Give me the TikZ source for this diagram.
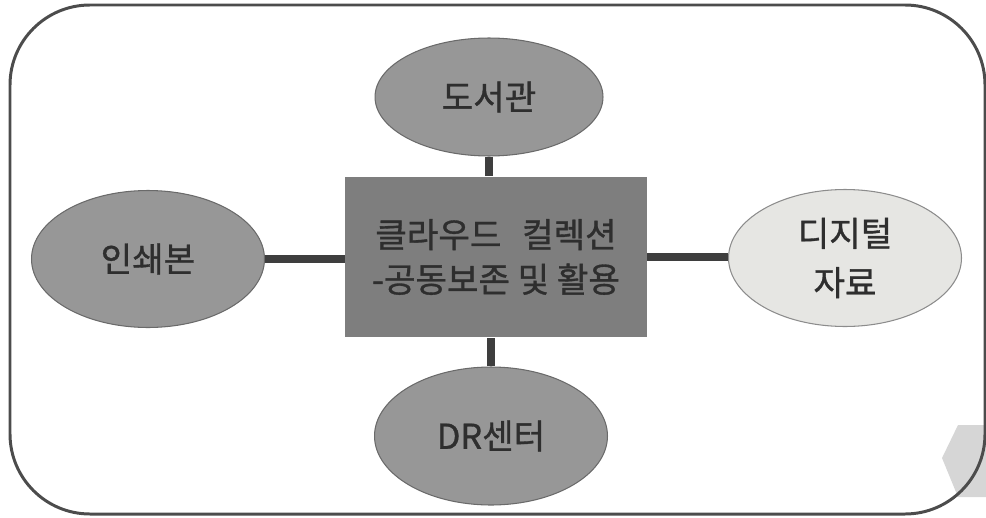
\documentclass[tikz,border=0pt]{standalone}
\usepackage{fontspec}
\newfontfamily\kr[FakeBold=1]{Noto Sans CJK KR}
\usetikzlibrary{shapes.geometric}
\definecolor{framegrey}{HTML}{4C4C4C}
\definecolor{linkgrey}{HTML}{3E3E3E}
\definecolor{boxgrey}{HTML}{7E7E7E}
\definecolor{ovalgrey}{HTML}{979797}
\definecolor{ovalline}{HTML}{6A6A6A}
\definecolor{lightoval}{HTML}{E6E6E3}
\definecolor{inkgrey}{HTML}{2E2E2E}
\tikzset{
 oval/.style={ellipse, draw=ovalline, fill=ovalgrey, line width=0.6pt, inner sep=0pt,
  minimum width=4.66cm, minimum height=2.74cm, align=center, text=inkgrey,
  font=\kr\fontsize{19.5}{28}\selectfont},
 box/.style={rectangle, fill=boxgrey, minimum width=6.04cm, minimum height=3.22cm,
  align=center, text=inkgrey, font=\kr\fontsize{19.5}{25.5}\selectfont},
 link/.style={draw=linkgrey, line width=0.16cm}
}
\begin{document}
\begin{tikzpicture}[x=0.02cm, y=-0.02cm]
 \useasboundingbox (0,0) rectangle (986,517);
 % scan mark at the lower right
 \fill [black!16] (942,458) -- (958,425) -- (986,425) -- (986,497) -- (958,497) -- cycle;
 \draw [framegrey, line width=1.7pt, rounded corners=1.6cm] (10,5) rectangle (985,514);
 \node [box] (cloud) at (496,257) {클라우드\hspace{0.6em}컬렉션\\-공동보존 및 활용};
 \node [oval, minimum height=2.36cm, minimum width=4.56cm] (library) at (489,97) {도서관};
 \node [oval] (print) at (148,259) {인쇄본};
 \node [oval, fill=lightoval, draw=black!45] (digital) at (845,258) {디지털\\자료};
 \node [oval, minimum height=2.76cm] (drcenter) at (491,436) {DR센터};
 \draw [link] (library.south) -- (library.south |- cloud.north);
 \draw [link] (print.east) -- (print.east -| cloud.west);
 \draw [link] (cloud.east) -- (cloud.east -| digital.west);
 \draw [link] (drcenter.north) -- (drcenter.north |- cloud.south);
\end{tikzpicture}
\end{document}
